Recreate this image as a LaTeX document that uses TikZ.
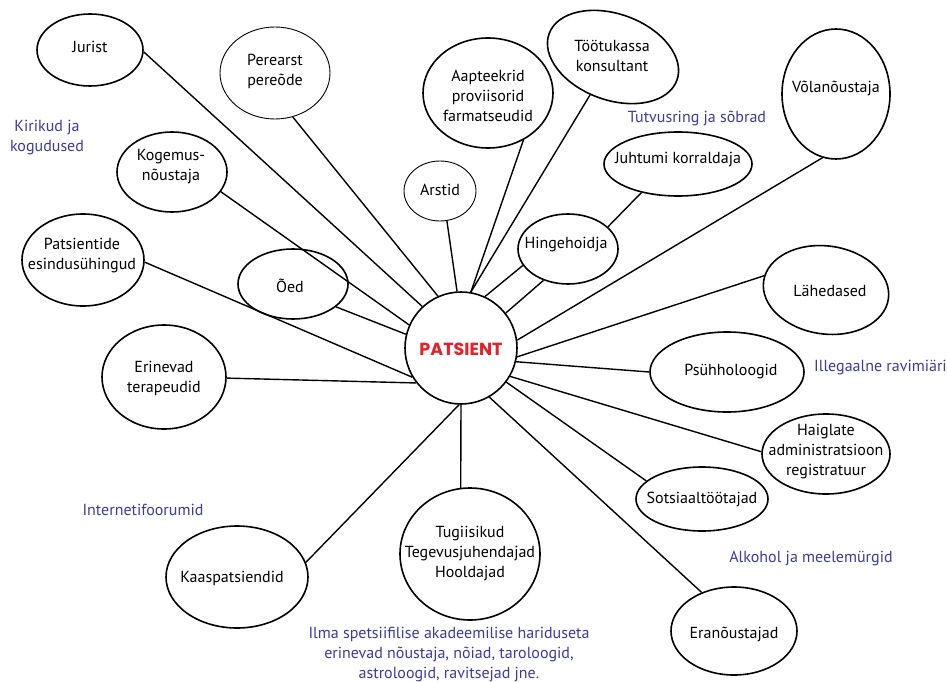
\documentclass[tikz,border=0pt]{standalone}
\usepackage{fontspec}
\setmainfont{PT Sans}
\newfontfamily\patfont{Poppins}
\usetikzlibrary{shapes.geometric}
\definecolor{lblue}{RGB}{58,58,168}
\definecolor{pred}{RGB}{230,32,40}
\tikzset{
  ell/.style={draw, ellipse, line width=1.6pt, inner sep=0pt},
  thinell/.style={draw, ellipse, line width=0.9pt, inner sep=0pt},
  txt/.style={align=center, font=\fontsize{16}{20}\selectfont, inner sep=0pt},
  bluetxt/.style={txt, text=lblue},
  conn/.style={line width=1.4pt}
}
\begin{document}
\begin{tikzpicture}[x=1pt,y=-1pt]
\useasboundingbox (0,0) rectangle (947,682);
% ellipses
\node[draw, circle, line width=1.6pt, minimum size=112pt, inner sep=0pt] (pat) at (461,348) {};
\node[ell, minimum width=106pt, minimum height=72pt] (jur) at (90,50) {};
\node[thinell, minimum width=110pt, minimum height=92pt] (per) at (275,73) {};
\node[ell, minimum width=110pt, minimum height=80pt] (kog) at (172,172) {};
\node[ell, minimum width=122pt, minimum height=92pt] (pats) at (83,260) {};
\node[ell, minimum width=110pt, minimum height=70pt] (oed) at (293,284) {};
\node[thinell, minimum width=72pt, minimum height=60pt] (ars) at (440,191) {};
\node[ell, minimum width=130pt, minimum height=110pt] (apt) at (488,93) {};
\node[ell, minimum width=136pt, minimum height=86pt, rotate=-20] (toot) at (613,57) {};
\node[ell, minimum width=148pt, minimum height=64pt] (juh) at (678,164) {};
\node[ell, minimum width=108pt, minimum height=130pt] (vol) at (836,94) {};
\node[ell, minimum width=100pt, minimum height=70pt] (hin) at (568,249) {};
\node[ell, minimum width=126pt, minimum height=88pt, rotate=-8] (lah) at (826,290) {};
\node[ell, minimum width=154pt, minimum height=80pt] (psy) at (727,372) {};
\node[ell, minimum width=128pt, minimum height=80pt] (hai) at (826,454) {};
\node[ell, minimum width=132pt, minimum height=64pt] (sot) at (702,499) {};
\node[ell, minimum width=126pt, minimum height=88pt] (era) at (734,631) {};
\node[ell, minimum width=124pt, minimum height=104pt] (eri) at (164,377) {};
\node[ell, minimum width=142pt, minimum height=102pt] (kaa) at (237,577) {};
\node[ell, minimum width=140pt, minimum height=132pt] (tug) at (470,554) {};
% texts
\node[txt] (patT) at (461,349) {\patfont\fontsize{17.5}{20}\selectfont\bfseries\color{pred}PATSIENT};
\node[txt] (jurT) at (90,47) {Jurist};
\node[txt] (perT) at (275,71) {Perearst\\pereõde};
\node[txt] (kogT) at (171,167) {Kogemus-\\nõustaja};
\node[txt] (patsT) at (82,256) {Patsientide\\esindusühingud};
\node[txt] (oedT) at (290,286) {Õed};
\node[txt] (arsT) at (440,190) {Arstid};
\node[txt] (aptT) at (488,96) {Aapteekrid\\proviisorid\\farmatseudid};
\node[txt] (tootT) at (612,56) {Töötukassa\\konsultant};
\node[txt] (juhT) at (678,160) {Juhtumi korraldaja};
\node[txt] (volT) at (836,88) {Võlanõustaja};
\node[txt] (hinT) at (566,245) {Hingehoidja};
\node[txt] (lahT) at (830,291) {Lähedased};
\node[txt] (psyT) at (731,372) {Psühholoogid};
\node[txt] (haiT) at (826,452) {Haiglate\\administratsioon\\registratuur};
\node[txt] (sotT) at (702,499) {Sotsiaaltöötajad};
\node[txt] (eraT) at (734,634) {Eranõustajad};
\node[txt] (eriT) at (164,378) {Erinevad\\terapeudid};
\node[txt] (kaaT) at (232,578) {Kaaspatsiendid};
\node[txt] (tugT) at (470,554) {Tugiisikud\\Tegevusjuhendajad\\Hooldajad};
% blue labels
\node[bluetxt] (kir) at (47,138) {Kirikud ja\\kogudused};
\node[bluetxt] (tut) at (697,118) {Tutvusring ja sõbrad};
\node[bluetxt, anchor=west] (ill) at (814,368) {Illegaalne ravimiäri};
\node[bluetxt] (alk) at (811,559) {Alkohol ja meelemürgid};
\node[bluetxt] (int) at (143,510) {Internetifoorumid};
\node[bluetxt] (ilm) at (449,655) {Ilma spetsiifilise akadeemilise hariduseta\\erinevad nõustaja, nõiad, taroloogid,\\astroloogid, ravitsejad jne.};
% connectors
\draw[conn] (pat.133) -- (jur.-2);
\draw[conn] (pat.114) -- (per.-68);
\draw[conn] (pat.156.5) -- (kog.-22);
\draw[conn] (pat.166) -- (oed.-28);
\draw[conn] (pat.211) -- (pats.-2);
\draw[conn] (pat.218) -- (eri.-1);
\draw[conn] (pat.94) -- (ars.-77);
\draw[conn] (pat.80) -- (apt.-53);
\draw[conn] (pat.80) -- (toot);
\draw[conn] (pat.65) -- (hin.200);
\draw[conn] (pat.38) -- (hin.-128);
\draw[conn] (hin.29) -- (juh.-142);
\draw[conn] (pat.8) -- (vol.-102);
\draw[conn] (pat.-9) -- (lah.175);
\draw[conn] (pat.-14) -- (psy.180);
\draw[conn] (pat.-30) -- (hai.178);
\draw[conn] (pat.-37) -- (sot.162);
\draw[conn] (pat.-60.5) -- (era.130);
\draw[conn] (pat.-90) -- (tug.98);
\draw[conn] (pat.-92) -- (kaa.12);
\end{tikzpicture}
\end{document}
